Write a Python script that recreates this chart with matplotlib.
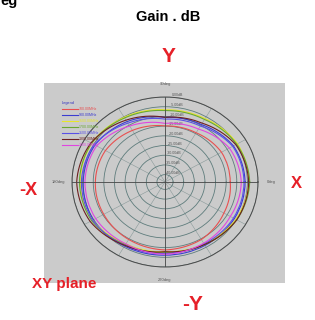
import matplotlib
matplotlib.use("Agg")
import matplotlib.pyplot as plt
import numpy as np

plt.rcParams['font.family'] = ['Liberation Sans', 'DejaVu Sans']

# angles (deg) at which the gain was read, 0 = +X, counter clockwise
angles = [0, 30, 60, 90, 120, 150, 180, 210, 240, 270, 300, 330]

freqs = ["700.00MHz", "900.00MHz", "1500.00MHz", "1700.00MHz",
         "2100.00MHz", "2300.00MHz", "2600.00MHz"]
colors = ["#e85050", "#3c3cd0", "#e6e62a", "#6aa832", "#5a50e6", "#6e2020", "#e046e0"]

gain_700 = [-13.1, -13.1, -14.5, -14.9, -13.1, -11.4, -11.0, -10.5, -9.6, -8.8, -9.6, -11.8]
gain_900 = [-6.1, -6.6, -9.6, -10.5, -7.9, -5.7, -5.3, -4.8, -5.7, -6.1, -6.1, -6.1]
gain_1500 = [-4.4, -4.4, -6.1, -6.6, -5.3, -3.9, -3.9, -4.4, -7.0, -7.9, -7.0, -5.3]
gain_1700 = [-3.9, -4.8, -6.6, -7.0, -5.7, -3.9, -3.5, -3.9, -6.6, -7.4, -6.6, -4.8]
gain_2100 = [-6.6, -7.0, -10.5, -11.4, -8.8, -5.3, -4.4, -4.4, -6.1, -7.0, -7.0, -6.6]
gain_2300 = [-4.4, -5.3, -8.8, -10.5, -7.0, -3.5, -2.2, -3.1, -6.1, -7.9, -6.6, -4.8]
gain_2600 = [-7.9, -8.8, -12.3, -13.6, -10.5, -6.6, -6.1, -6.1, -7.0, -6.6, -7.4, -8.3]
gains = [gain_700, gain_900, gain_1500, gain_1700, gain_2100, gain_2300, gain_2600]

ring_vals = [0, -5, -10, -15, -20, -25, -30, -35, -40]

fig = plt.figure(figsize=(3.15, 3.2), dpi=100)
fig.patch.set_facecolor("white")

# grey background panel of the screenshot
panel = fig.add_axes([0.140, 0.116, 0.765, 0.625])
panel.set_facecolor("#cbcbcb")
panel.set_xticks([])
panel.set_yticks([])
for s in panel.spines.values():
    s.set_visible(False)

ax = fig.add_axes([0.2286, 0.1656, 0.5905, 0.53125], projection="polar")
ax.set_aspect("auto")
ax.patch.set_alpha(0)

th = np.deg2rad(angles + [360])
for g, c, f in zip(gains, colors, freqs):
    ln, = ax.plot(th, g + [g[0]], color=c, lw=0.8, label=f)
    ln.get_path()._interpolation_steps = 30  # draw segments as arcs in polar space

ax.set_ylim(-43.8, 0)
ax.set_yticks(ring_vals)
ax.set_yticklabels([f"{v:.2f}dB" for v in ring_vals], fontsize=2.6, color="#555555")
ax.set_rlabel_position(86)
ax.yaxis.grid(True, color="#5e7c7c", lw=0.6)
ax.xaxis.grid(True, color="#8a9a9a", lw=0.4)

tticks = list(range(0, 360, 30))
tlabels = [{0: "0deg", 90: "90deg", 180: "180deg", 270: "270deg"}.get(t, "") for t in tticks]
ax.set_xticks(np.deg2rad(tticks))
ax.set_xticklabels(tlabels, fontsize=3, color="#555555")
ax.xaxis.set_tick_params(pad=-1)
for t in [0, 90, 180, 270]:
    ax.axvline(np.deg2rad(t), color="#4a4a4a", lw=0.6)
ax.spines["polar"].set_color("#4a4a4a")
ax.spines["polar"].set_linewidth(0.7)

leg = ax.legend(loc="upper left", bbox_to_anchor=(0.19, 0.69), bbox_transform=fig.transFigure,
                frameon=False, fontsize=2.6, title="Legend", title_fontsize=2.8,
                handlelength=4.5, handletextpad=0.3, labelspacing=0.55, labelcolor="linecolor",
                alignment="left", borderpad=0)
leg.get_title().set_color("#3030c0")

red = "#e62028"
fig.text(0.535, 0.947, "Gain . dB", fontsize=10.5, fontweight="bold", ha="center", va="center")
fig.text(0.0, 0.985, "eg", fontsize=10.5, fontweight="bold", ha="left", va="baseline")
fig.text(0.535, 0.822, "Y", fontsize=15, fontweight="bold", color=red, ha="center", va="center")
fig.text(0.090, 0.406, "-X", fontsize=13, fontweight="bold", color=red, ha="center", va="center")
fig.text(0.940, 0.425, "X", fontsize=12, fontweight="bold", color=red, ha="center", va="center")
fig.text(0.203, 0.113, "XY plane", fontsize=11, fontweight="bold", color=red, ha="center", va="center")
fig.text(0.613, 0.047, "-Y", fontsize=15, fontweight="bold", color=red, ha="center", va="center")

fig.savefig("out.png", dpi=100)
